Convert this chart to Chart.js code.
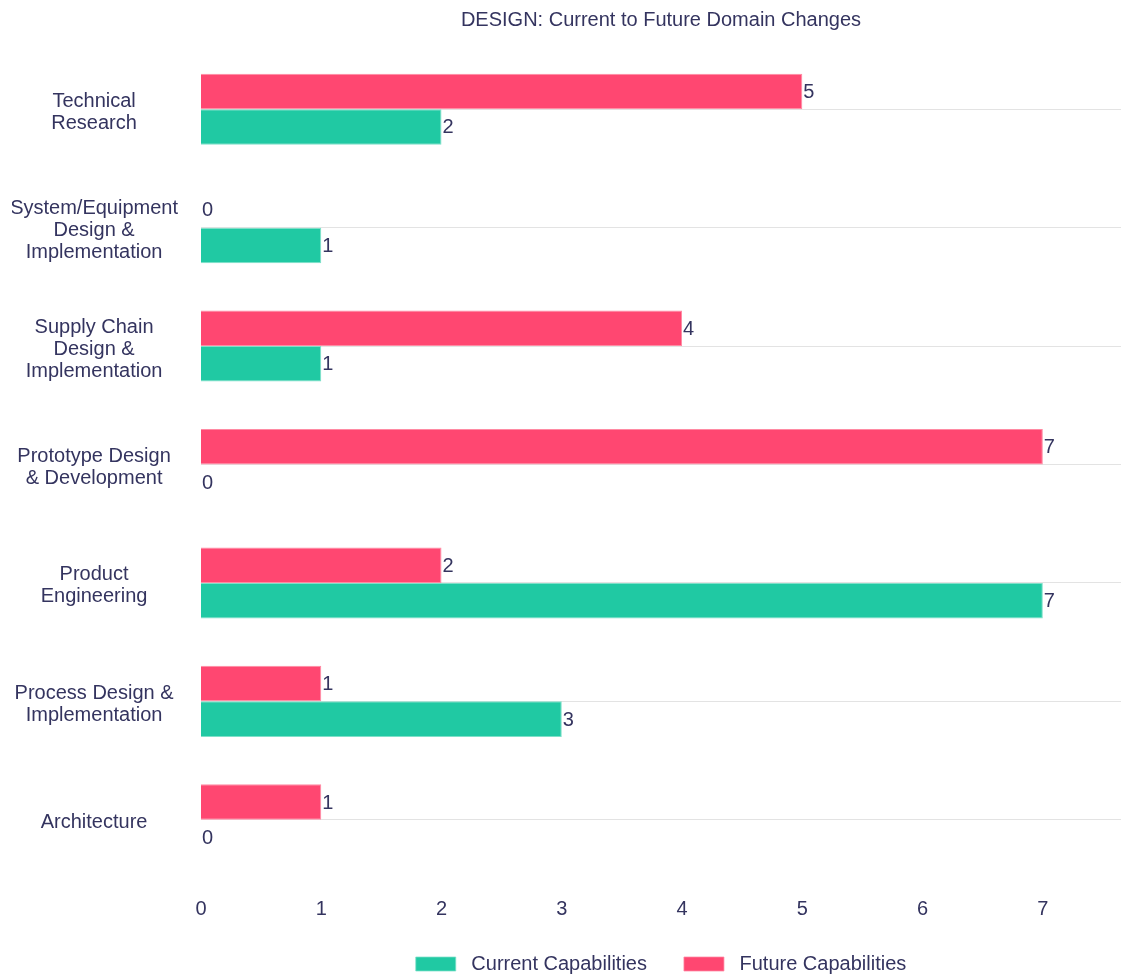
<!DOCTYPE html>
<html>
<head>
<meta charset="utf-8">
<script src="https://cdn.jsdelivr.net/npm/chart.js@4"></script>
<style>
  html,body{margin:0;padding:0;background:#fff;}
  #wrap{width:1121px;height:976px;position:relative;}
</style>
</head>
<body>
<div id="wrap"><canvas id="chart" width="1121" height="976"></canvas></div>
<script>
// data
const categories = [
  ['Technical','Research'],
  ['System/Equipment','Design &','Implementation'],
  ['Supply Chain','Design &','Implementation'],
  ['Prototype Design','& Development'],
  ['Product','Engineering'],
  ['Process Design &','Implementation'],
  'Architecture'
];
const futureVals  = [5, 0, 4, 7, 2, 1, 1];
const currentVals = [2, 1, 1, 0, 7, 3, 0];
const xTicks = [0,1,2,3,4,5,6,7];

const TXT = '#34345f';
const FONT = 'Arial, "Liberation Sans", sans-serif';
const LEGEND_H = 45, LEGEND_Y = 966;

// value labels just past the bar end
const valueLabels = {
  id:'valueLabels',
  afterDatasetsDraw(chart){
    const ctx = chart.ctx;
    ctx.save();
    ctx.font = '20px ' + FONT;
    ctx.fillStyle = TXT;
    ctx.textAlign = 'left';
    ctx.textBaseline = 'middle';
    chart.data.datasets.forEach((ds,i)=>{
      const meta = chart.getDatasetMeta(i);
      meta.data.forEach((bar,j)=>{
        ctx.fillText(String(ds.data[j]), bar.x + 1, bar.y + 1);
      });
    });
    ctx.restore();
  }
};

// legend gets a fixed height; title + legend centred over the plot area
const placeBlocks = {
  id:'placeBlocks',
  beforeLayout(chart){
    const lg = chart.legend;
    if(lg && !lg._fixedFit){
      const fit = lg.fit.bind(lg);
      lg.fit = function(){ fit(); this.height = LEGEND_H; };
      lg._fixedFit = true;
    }
  },
  beforeDraw(chart){
    const a = chart.chartArea;
    [chart.titleBlock, chart.legend].forEach(b=>{
      if(!b) return;
      b.left = a.left; b.right = a.right;
    });
    const pad = chart.legend.options.labels.padding;
    chart.legend.top = LEGEND_Y - pad - 12;
  }
};

new Chart(document.getElementById('chart'), {
  type:'bar',
  data:{
    labels:categories,
    datasets:[
      {label:'Future Capabilities', data:futureVals,
       backgroundColor:'#ff4771', borderColor:'#ff8aa3', borderWidth:{top:1,bottom:1,right:1,left:0},
       categoryPercentage:0.6, barPercentage:1.0},
      {label:'Current Capabilities', data:currentVals,
       backgroundColor:'#20c9a3', borderColor:'#7fe0c9', borderWidth:{top:1,bottom:1,right:1,left:0},
       categoryPercentage:0.6, barPercentage:1.0}
    ]
  },
  options:{
    indexAxis:'y',
    responsive:false,
    animation:false,
    devicePixelRatio:1,
    layout:{padding:{left:12,right:0,top:0,bottom:0}},
    plugins:{
      title:{display:true, text:'DESIGN: Current to Future Domain Changes',
        color:TXT, font:{family:FONT, size:20, weight:'normal', lineHeight:1.2},
        padding:{top:8,bottom:18}},
      legend:{position:'bottom', reverse:true,
        labels:{color:TXT, font:{family:FONT, size:20},
          boxWidth:40, boxHeight:14, padding:37,
          generateLabels:(c)=>Chart.defaults.plugins.legend.labels.generateLabels(c)
            .map(l=>({...l, text:' ' + l.text}))}},
      tooltip:{enabled:false}
    },
    scales:{
      x:{min:0, max:7.65,
        afterBuildTicks:(s)=>{ s.ticks = xTicks.map(v=>({value:v})); },
        afterFit:(s)=>{ s.height = 52; },
        grid:{display:false, drawTicks:false},
        border:{display:false},
        ticks:{color:TXT, font:{family:FONT, size:20}, padding:18}},
      y:{
        afterFit:(s)=>{ s.width = 189; },
        grid:{offset:false, color:'#e3e3e3', drawTicks:false},
        border:{display:false},
        ticks:{color:TXT, font:{family:FONT, size:20, lineHeight:1.1},
          crossAlign:'center', padding:23, labelOffset:3}}
    }
  },
  plugins:[valueLabels, placeBlocks]
});
</script>
</body>
</html>
